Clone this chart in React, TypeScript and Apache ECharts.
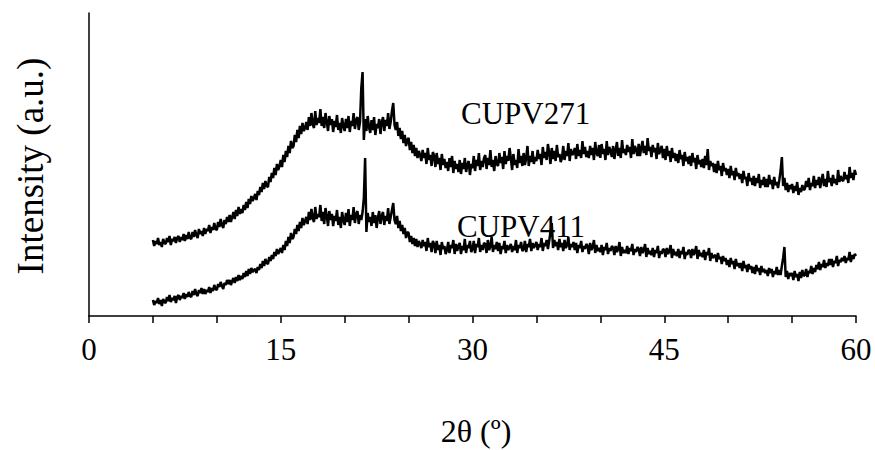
import React, { useEffect, useRef } from "react";
import * as echarts from "echarts";

// 2θ sampling grid (degrees)
const thetaStart = 5;
const thetaStep = 0.1;

// Intensities (arbitrary units), one row per degree
const cupv271: number[] = [
  76, 70, 75, 72, 78, 71, 74, 69, 77, 73,
  72, 78, 74, 80, 71, 77, 75, 79, 73, 78,
  80, 74, 79, 76, 82, 75, 81, 77, 84, 78,
  77, 84, 79, 86, 81, 78, 87, 82, 85, 80,
  88, 82, 87, 85, 91, 83, 89, 86, 93, 87,
  86, 94, 89, 97, 91, 88, 96, 92, 99, 94,
  101, 94, 99, 104, 97, 106, 100, 109, 102, 107,
  103, 111, 106, 114, 108, 117, 112, 120, 115, 118,
  122, 116, 125, 121, 129, 124, 133, 127, 135, 130,
  129, 139, 134, 143, 138, 148, 141, 152, 146, 150,
  156, 149, 161, 154, 165, 159, 170, 163, 175, 168,
  170, 181, 174, 186, 178, 190, 182, 193, 185, 188,
  194, 186, 199, 190, 203, 192, 188, 205, 191, 198,
  193, 207, 190, 199, 188, 203, 194, 185, 200, 191,
  197, 184, 195, 189, 201, 186, 193, 183, 198, 190,
  185, 197, 188, 200, 184, 195, 190, 203, 187, 196,
  199, 186, 194, 228, 244, 176, 197, 185, 200, 189,
  183, 196, 186, 199, 181, 192, 188, 197, 182, 194,
  199, 185, 196, 190, 203, 187, 194, 205, 213, 191,
  186, 194, 180, 188, 177, 185, 173, 181, 170, 176,
  178, 166, 174, 163, 171, 160, 168, 158, 165, 161,
  155, 166, 158, 163, 152, 168, 156, 161, 150, 164,
  160, 149, 163, 152, 158, 146, 162, 151, 157, 148,
  154, 145, 158, 149, 160, 143, 155, 147, 152, 144,
  156, 142, 153, 147, 158, 144, 151, 155, 141, 152,
  148, 160, 145, 156, 150, 163, 146, 155, 149, 158,
  161, 147, 158, 151, 166, 149, 156, 145, 160, 152,
  150, 163, 153, 159, 147, 165, 152, 160, 155, 168,
  158, 146, 162, 151, 156, 148, 167, 153, 160, 150,
  163, 151, 158, 170, 150, 160, 154, 165, 152, 159,
  155, 166, 157, 162, 151, 169, 158, 164, 156, 172,
  163, 152, 168, 157, 165, 155, 171, 159, 162, 154,
  158, 170, 156, 165, 160, 173, 155, 167, 161, 163,
  168, 157, 172, 160, 166, 158, 175, 162, 169, 159,
  165, 158, 170, 161, 168, 156, 174, 163, 160, 171,
  158, 172, 162, 167, 156, 175, 161, 169, 165, 159,
  170, 157, 166, 174, 160, 168, 158, 176, 163, 167,
  161, 171, 164, 169, 158, 177, 162, 170, 166, 160,
  172, 160, 168, 175, 163, 170, 161, 178, 165, 169,
  159, 171, 164, 168, 157, 173, 162, 166, 170, 158,
  167, 156, 170, 160, 165, 154, 168, 158, 163, 155,
  162, 153, 166, 157, 161, 150, 164, 155, 159, 152,
  160, 150, 163, 154, 158, 147, 161, 152, 156, 149,
  157, 148, 160, 151, 167, 146, 155, 150, 153, 144,
  152, 143, 155, 146, 150, 140, 153, 145, 148, 141,
  147, 138, 150, 141, 145, 136, 148, 140, 143, 137,
  142, 133, 145, 137, 139, 130, 143, 135, 138, 131,
  140, 130, 138, 133, 142, 128, 136, 131, 139, 129,
  137, 129, 141, 132, 136, 127, 139, 131, 134, 128,
  136, 145, 159, 130, 138, 126, 133, 124, 131, 127,
  132, 123, 130, 125, 134, 121, 128, 124, 131, 126,
  127, 135, 129, 138, 126, 133, 130, 140, 128, 136,
  131, 139, 128, 136, 142, 130, 137, 129, 145, 134,
  138, 130, 141, 133, 137, 131, 146, 134, 140, 136,
  135, 144, 137, 141, 133, 149, 138, 143, 136, 146,
  141,
];

const cupv411: number[] = [
  16, 11, 15, 13, 18, 12, 16, 10, 17, 14,
  13, 19, 15, 21, 14, 18, 16, 20, 13, 19,
  21, 16, 20, 18, 23, 17, 22, 19, 24, 20,
  19, 25, 21, 27, 22, 20, 26, 23, 28, 22,
  27, 22, 26, 24, 29, 23, 28, 25, 31, 27,
  26, 32, 29, 34, 30, 27, 33, 31, 36, 32,
  36, 31, 35, 38, 33, 39, 35, 41, 36, 40,
  37, 43, 39, 45, 40, 47, 42, 48, 44, 46,
  47, 43, 49, 46, 52, 48, 55, 50, 57, 53,
  52, 59, 55, 61, 57, 64, 60, 67, 62, 65,
  68, 63, 71, 66, 75, 70, 79, 73, 83, 77,
  79, 87, 82, 91, 85, 94, 88, 98, 91, 95,
  99, 92, 104, 96, 107, 98, 94, 109, 97, 102,
  99, 111, 95, 104, 92, 108, 100, 90, 105, 96,
  102, 90, 100, 95, 106, 91, 99, 88, 104, 96,
  91, 103, 94, 107, 90, 101, 96, 109, 93, 102,
  105, 92, 101, 96, 104, 118, 158, 84, 103, 94,
  99, 90, 104, 93, 101, 88, 98, 105, 92, 100,
  104, 91, 100, 95, 108, 92, 99, 106, 113, 96,
  92, 100, 88, 95, 85, 91, 82, 88, 78, 84,
  83, 74, 80, 72, 78, 70, 77, 69, 75, 72,
  68, 76, 70, 74, 65, 78, 69, 73, 64, 75,
  72, 63, 75, 66, 71, 61, 74, 67, 70, 62,
  66, 74, 63, 71, 68, 76, 62, 72, 65, 70,
  73, 62, 70, 66, 77, 63, 71, 68, 75, 64,
  67, 75, 63, 72, 69, 78, 64, 71, 66, 73,
  72, 63, 76, 66, 70, 79, 64, 71, 67, 74,
  65, 73, 62, 70, 67, 75, 63, 71, 66, 69,
  72, 64, 70, 66, 76, 63, 71, 68, 74, 65,
  67, 75, 64, 72, 69, 77, 65, 73, 68, 71,
  74, 66, 72, 69, 78, 65, 73, 70, 76, 67,
  75, 84, 93, 68, 76, 70, 74, 66, 77, 69,
  73, 65, 76, 68, 71, 79, 66, 72, 69, 74,
  66, 73, 63, 71, 68, 75, 64, 70, 67, 72,
  70, 62, 73, 66, 69, 76, 63, 71, 65, 68,
  64, 71, 61, 69, 66, 73, 62, 68, 65, 70,
  68, 61, 70, 64, 67, 74, 60, 69, 63, 66,
  63, 70, 62, 68, 65, 72, 61, 67, 64, 69,
  67, 60, 69, 63, 66, 72, 59, 68, 62, 65,
  61, 68, 59, 66, 63, 70, 58, 65, 62, 67,
  66, 59, 68, 62, 65, 71, 58, 67, 61, 64,
  60, 67, 58, 65, 62, 69, 57, 64, 61, 66,
  65, 58, 67, 61, 64, 70, 57, 66, 60, 63,
  59, 66, 56, 64, 61, 68, 55, 63, 58, 60,
  61, 54, 63, 57, 59, 52, 60, 55, 58, 51,
  56, 49, 58, 52, 55, 47, 57, 50, 53, 48,
  53, 45, 55, 48, 51, 44, 52, 47, 50, 43,
  49, 42, 51, 45, 48, 41, 50, 44, 47, 43,
  46, 40, 48, 43, 47, 39, 45, 42, 49, 41,
  46, 41, 50, 58, 69, 39, 45, 37, 43, 40,
  43, 36, 45, 39, 42, 35, 44, 38, 46, 40,
  41, 47, 39, 45, 43, 50, 42, 48, 44, 51,
  47, 54, 46, 52, 49, 56, 48, 53, 50, 57,
  51, 57, 49, 55, 53, 60, 50, 56, 54, 58,
  55, 60, 53, 58, 56, 64, 54, 61, 57, 62,
  60,
];

const seriesNames = ["CUPV271", "CUPV411"];
const xTicks = [0, 15, 30, 45, 60];
const xTitle = "2θ (º)";
const yTitle = "Intensity (a.u.)";

const toPairs = (vals: number[]) =>
  vals.map((v, i) => [Number((thetaStart + i * thetaStep).toFixed(1)), v]);

export default function App() {
  const ref = useRef<HTMLDivElement>(null);
  useEffect(() => {
    if (!ref.current) return;
    const chart = echarts.init(ref.current, undefined, { renderer: "svg" });
    const font = "'Liberation Serif', 'Times New Roman', serif";
    chart.setOption({
      animation: false,
      backgroundColor: "#ffffff",
      grid: { left: 89, right: 19, top: 13, bottom: 134, containLabel: false },
      xAxis: {
        type: "value",
        min: xTicks[0],
        max: xTicks[xTicks.length - 1],
        interval: 15,
        axisLine: { show: true, lineStyle: { color: "#000", width: 1.5 } },
        axisTick: { show: true, length: 7, lineStyle: { color: "#000", width: 1.5 } },
        minorTick: { show: true, splitNumber: 3, length: 7, lineStyle: { color: "#000", width: 1.5 } },
        splitLine: { show: false },
        axisLabel: { color: "#000", fontSize: 31, fontFamily: font, margin: 18 },
      },
      yAxis: {
        type: "value",
        min: 0,
        max: 303,
        axisLine: { show: true, lineStyle: { color: "#000", width: 1.5 } },
        axisTick: { show: false },
        axisLabel: { show: false },
        splitLine: { show: false },
      },
      series: [
        {
          name: seriesNames[0],
          type: "line",
          data: toPairs(cupv271),
          showSymbol: false,
          symbol: "none",
          lineStyle: { color: "#000", width: 2.5 },
        },
        {
          name: seriesNames[1],
          type: "line",
          data: toPairs(cupv411),
          showSymbol: false,
          symbol: "none",
          lineStyle: { color: "#000", width: 2.5 },
        },
      ],
      graphic: [
        {
          type: "text",
          left: 461,
          top: 98,
          style: { text: seriesNames[0], fill: "#000", font: `31px ${font}`, verticalAlign: "middle" },
        },
        {
          type: "text",
          left: 457,
          top: 211,
          style: { text: seriesNames[1], fill: "#000", font: `31px ${font}`, verticalAlign: "middle" },
        },
        {
          type: "text",
          x: 476,
          y: 431,
          style: { text: xTitle, fill: "#000", font: `32px ${font}`, align: "center", verticalAlign: "middle" },
        },
        {
          type: "text",
          x: 30,
          y: 166,
          rotation: Math.PI / 2,
          style: { text: yTitle, fill: "#000", font: `37px ${font}`, align: "center", verticalAlign: "middle" },
        },
      ],
    });
    return () => chart.dispose();
  }, []);
  return <div ref={ref} style={{ width: 875, height: 450, position: "fixed", left: 0, top: 0 }} />;
}
